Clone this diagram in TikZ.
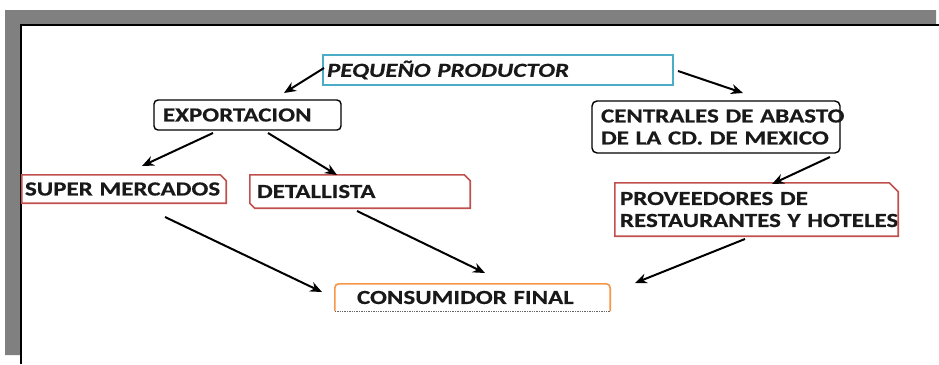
\documentclass[tikz,border=0pt]{standalone}
\usepackage{fontspec}
\setmainfont{Carlito}[FakeStretch=1.25, BoldFeatures={FakeBold=0.5}, BoldItalicFeatures={FakeBold=0.5}]
\usetikzlibrary{arrows.meta,calc}
\definecolor{pblue}{HTML}{4BACC6}
\definecolor{pred}{HTML}{C0504D}
\definecolor{porange}{HTML}{F79646}
\definecolor{frame}{RGB}{128,128,128}
\begin{document}
\begin{tikzpicture}[x=1pt,y=-1pt,
  txt/.style={font={\fontsize{20}{22}\selectfont\bfseries}, align=left, inner ysep=0pt, text=black!90},
  arr/.style={line width=2pt, -{Stealth[length=12pt,width=10pt]}},
  redline/.style={draw=pred, line width=1.6pt, line join=miter}]
\useasboundingbox (0,0) rectangle (939,364);
% frame
\fill[frame] (5,10) -- (936,10) -- (936,24) -- (20,24) -- (20,355) -- (5,355) -- cycle;
\draw[line width=2pt] (21,364) -- (21,25) -- (939,25);
% boxes
\node[txt, font={\fontsize{20}{22}\selectfont\bfseries\itshape}, text width=342pt, inner xsep=4pt, minimum height=30pt, draw=pblue, line width=1.7pt] (pp) at (498,70) {PEQUEÑO PRODUCTOR};
\node[txt, text width=169pt, inner xsep=9pt, minimum height=30pt, draw=black, line width=1.4pt, rounded corners=4pt] (exp) at (247.5,115) {EXPORTACION};
\node[txt, text width=230pt, inner xsep=9pt, minimum height=52pt, draw=black, line width=1.4pt, rounded corners=5pt] (cen) at (716,127) {\mbox{CENTRALES DE ABASTO}\\\mbox{DE LA CD. DE MEXICO}};
\node[txt, text width=198pt, inner xsep=3pt, minimum height=28pt] (sm) at (124,189) {\mbox{SUPER MERCADOS}};
\node[txt, text width=206pt, inner xsep=7pt, minimum height=33pt] (det) at (360,191.5) {DETALLISTA};
\node[txt, text width=273pt, inner xsep=5pt, minimum height=53pt] (prov) at (756.5,209.5) {\mbox{PROVEEDORES DE}\\\mbox{RESTAURANTES Y HOTELES}};
\node[txt, text width=231pt, inner xsep=22pt, minimum height=27pt] (cons) at (472.5,297.5) {\mbox{CONSUMIDOR FINAL}};
% snipped borders
\draw[redline] (sm.south west) -- (sm.north west) -- ([xshift=-6pt]sm.north east) -- ([yshift=-6pt]sm.north east) -- (sm.south east) -- cycle;
\draw[redline] ([yshift=5pt]det.south west) -- (det.north west) -- ([xshift=-6pt]det.north east) -- ([yshift=-6pt]det.north east) -- (det.south east) -- ([xshift=5pt]det.south west) -- cycle;
\draw[redline] (prov.south west) -- (prov.north west) -- ([xshift=-9pt]prov.north east) -- ([yshift=-9pt]prov.north east) -- (prov.south east) -- cycle;
\draw[porange, line width=1.6pt, rounded corners=4pt] (cons.south west) -- (cons.north west) -- (cons.north east) -- (cons.south east);
\draw[black!60, line width=1.4pt, densely dotted] (cons.south west) -- (cons.south east);
% arrow ends
\coordinate (a1s) at (324,68);  \coordinate (a1e) at (284,93);
\coordinate (a2s) at (678,71);  \coordinate (a2e) at (743,93);
\coordinate (a3s) at (213,133); \coordinate (a3e) at (142,166);
\coordinate (a4s) at (268,133); \coordinate (a4e) at (337,175);
\coordinate (a5s) at (830,157); \coordinate (a5e) at (772,184);
\coordinate (a6s) at (165,217); \coordinate (a6e) at (322,292);
\coordinate (a7s) at (357,211); \coordinate (a7e) at (485,273);
\coordinate (a8s) at (745,239); \coordinate (a8e) at (635,283);
\draw[arr] (a1s) -- (a1e);
\draw[arr] (a2s) -- (a2e);
\draw[arr] (a3s) -- (a3e);
\draw[arr] (a4s) -- (a4e);
\draw[arr] (a5s) -- (a5e);
\draw[arr] (a6s) -- (a6e);
\draw[arr] (a7s) -- (a7e);
\draw[arr] (a8s) -- (a8e);
\end{tikzpicture}
\end{document}
